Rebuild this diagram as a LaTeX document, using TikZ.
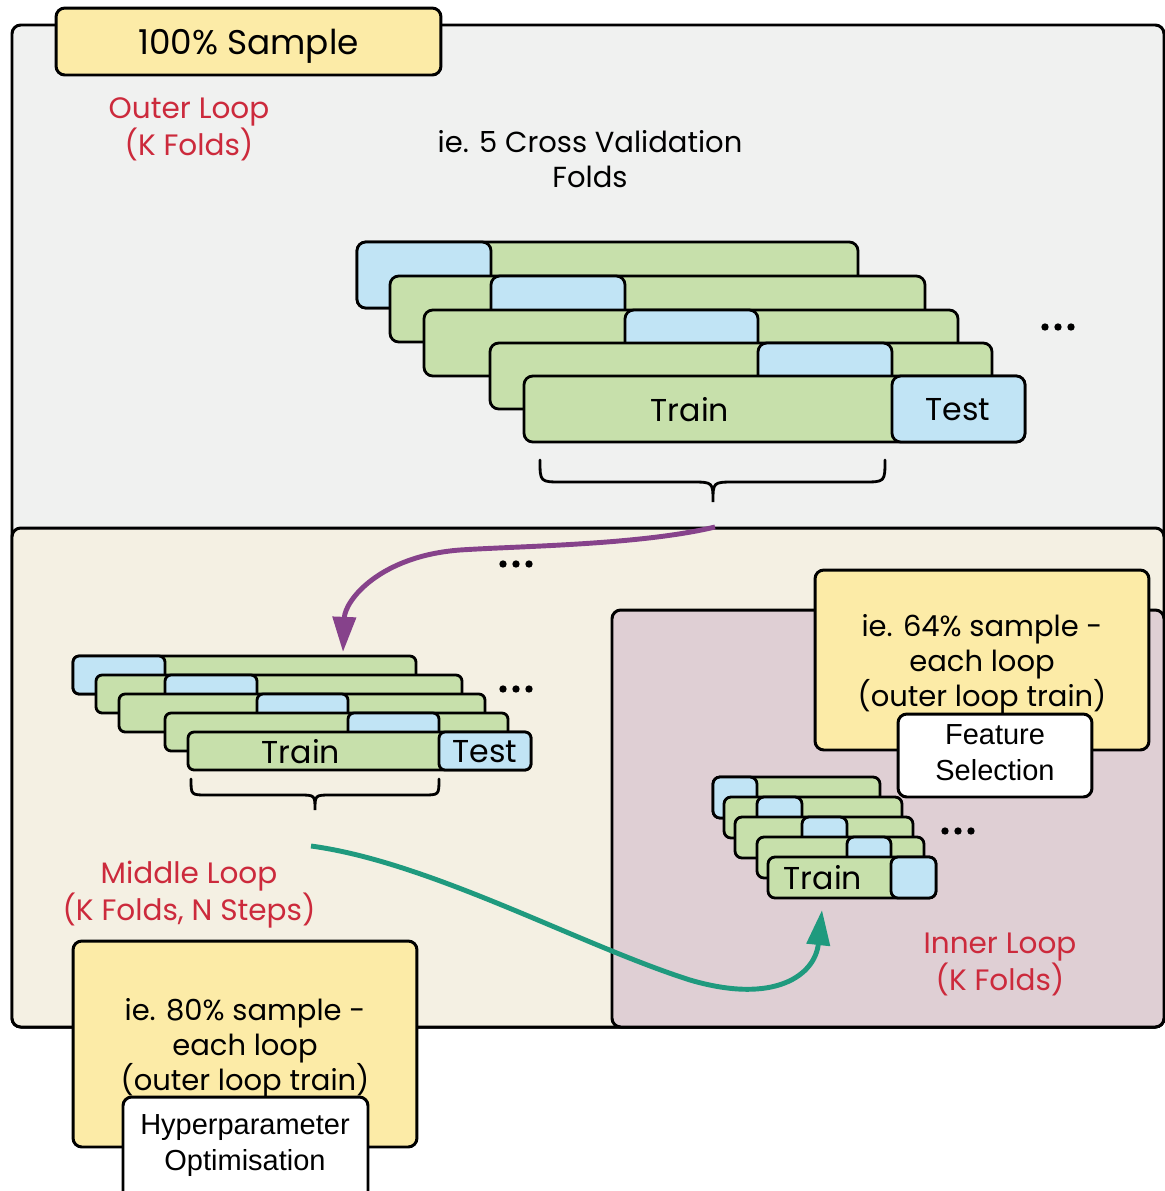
\documentclass[tikz,border=0pt]{standalone}
\usepackage{fontspec}
\setmainfont{Poppins}[Numbers=OldStyle]
\newfontfamily\arialfont{Liberation Sans}
\usetikzlibrary{arrows.meta}

\definecolor{outergrey}{HTML}{F0F1F0}
\definecolor{middlecream}{HTML}{F4F0E3}
\definecolor{innermauve}{HTML}{DFCFD4}
\definecolor{sampleyellow}{HTML}{FCEBA7}
\definecolor{traingreen}{HTML}{C7E0AB}
\definecolor{testblue}{HTML}{C1E4F5}
\definecolor{looplabel}{HTML}{CC2A3C}
\definecolor{arrowpurple}{HTML}{86428B}
\definecolor{arrowteal}{HTML}{1F9A7E}

\begin{document}
\begin{tikzpicture}[x=0.02cm, y=-0.02cm,
    frame/.style={draw, line width=1.7pt, rounded corners=5pt},
    ybox/.style={frame, fill=sampleyellow},
    wbox/.style={frame, fill=white},
    boxtext/.style={align=center, font=\fontsize{16.5}{20}\selectfont, yshift=-2.3pt},
    arialtext/.style={align=center, font=\arialfont\fontsize{16.5}{20.5}\selectfont},
    trainbar/.style={draw, line width=1.6pt, rounded corners=4pt, fill=traingreen},
    testbar/.style={trainbar, fill=testblue},
    looptext/.style={boxtext, text=looplabel, font=\fontsize{16.8}{20}\selectfont},
    bartext/.style={font=\fontsize{18}{20}\selectfont},
    flow/.style={line width=2.8pt, -{Triangle[length=20pt,width=13pt]}},
    brace/.style={line width=1.6pt, line cap=round}]
    \useasboundingbox (0,0) rectangle (1165,1191);

    % Nested loop frames
    \draw[frame, fill=outergrey] (12,25) rectangle (1164,1027);
    \draw[frame, fill=middlecream] (12,528) rectangle (1164,1027);
    \draw[frame, fill=innermauve] (612,610) rectangle (1164,1027);

    % Outer loop
    \node[ybox, minimum width=7.7cm, minimum height=1.34cm] (sample) at (248.5,41.5) {};
    \node[boxtext, font=\fontsize{19.5}{24}\selectfont, yshift=-0.5pt] (sampletext) at (sample) {100\% Sample};
    \node[looptext] (outerloop) at (189,125.5) {Outer Loop\\(K Folds)};
    \node[align=center, font=\fontsize{16.5}{20}\selectfont] (cvfolds) at (590,159.5) {ie. 5 Cross Validation\\Folds};

    \foreach \l/\r/\t/\bl/\br in {357/858/242/357/491, 390/925/276/491/625, 424/958/310/625/758, 490/992/343/758/892, 524/1025/376/892/1025} {
        \draw[trainbar, rounded corners=5pt] (\l,\t) rectangle (\r,\t+66);
        \draw[testbar, rounded corners=5pt] (\bl,\t) rectangle (\br,\t+66);
    }
    \node[bartext] (outertrain) at (690,410) {Train};
    \node[bartext] (outertest) at (958,410) {Test};
    \foreach \x in {-13,0,13} \fill (1058+\x,327) circle (2.1pt);

    \draw[brace] (540,460) .. controls (540,482) .. (562,482) -- (691,482) .. controls (713,482) .. (713,502)
        .. controls (713,482) .. (735,482) -- (863,482) .. controls (885,482) .. (885,460);

    % Middle loop
    \foreach \x in {-13,0,13} \fill (516+\x,564) circle (2.1pt);
    \foreach \l/\r/\t/\bl/\br in {73/416/656/73/165, 96/462/675/165/257, 119/485/694/257/348, 165/508/713/348/439, 188/531/732/439/531} {
        \draw[trainbar, rounded corners=3.5pt] (\l,\t) rectangle (\r,\t+38);
        \draw[testbar, rounded corners=3.5pt] (\bl,\t) rectangle (\br,\t+38);
    }
    \node[bartext] (middletrain) at (301,752) {Train};
    \node[bartext] (middletest) at (485,752) {Test};
    \foreach \x in {-13,0,13} \fill (516+\x,689) circle (2.1pt);

    \draw[brace] (191,779) .. controls (191,795) .. (207,795) -- (299,795) .. controls (315,795) .. (315,810)
        .. controls (315,795) .. (331,795) -- (423,795) .. controls (439,795) .. (439,779);

    \node[looptext] (middleloop) at (189,890.5) {Middle Loop\\(K Folds, N Steps)};
    \node[ybox, minimum width=6.88cm, minimum height=4.12cm] (middlesample) at (245,1044) {};
    \node[boxtext] (middlesampletext) at (middlesample) {ie. 80\% sample -\\each loop\\(outer loop train)};
    \draw[wbox] (123,1097) rectangle (368,1215);
    \node[arialtext] (hyperopt) at (245,1146) {Hyperparameter\\Optimisation};

    % Inner loop
    \node[ybox, minimum width=6.68cm, minimum height=3.6cm] (innersample) at (982,660) {};
    \node[boxtext] (innersampletext) at (innersample) {ie. 64\% sample -\\each loop\\(outer loop train)};
    \node[wbox, minimum width=3.88cm, minimum height=1.66cm] (featsel) at (995,755.5) {};
    \node[arialtext, yshift=1.7pt] (featseltext) at (featsel) {Feature\\Selection};

    \foreach \l/\r/\t/\bl/\br in {713/880/777/713/757, 724/902/797/757/802, 735/913/817/802/847, 757/924/837/847/891, 768/936/857/891/936} {
        \draw[trainbar] (\l,\t) rectangle (\r,\t+41);
        \draw[testbar] (\bl,\t) rectangle (\br,\t+41);
    }
    \node[bartext] (innertrain) at (823,878) {Train};
    \foreach \x in {-13,0,13} \fill (958+\x,831) circle (2.1pt);
    \node[looptext] (innerloop) at (1000,960.5) {Inner Loop\\(K Folds)};

    % Flow between loops
    \coordinate (outerexit) at (715,527);
    \coordinate (middleentry) at (343,652);
    \coordinate (middleexit) at (311,846);
    \coordinate (innerentry) at (822,910);
    \draw[flow, arrowpurple] (outerexit) .. controls (640,545) and (520,546) .. (460,550)
        .. controls (380,556) and (345,600) .. (middleentry);
    \draw[flow, arrowteal] (middleexit) .. controls (430,862) and (580,945) .. (690,980)
        .. controls (775,1005) and (815,975) .. (innerentry);
\end{tikzpicture}
\end{document}
